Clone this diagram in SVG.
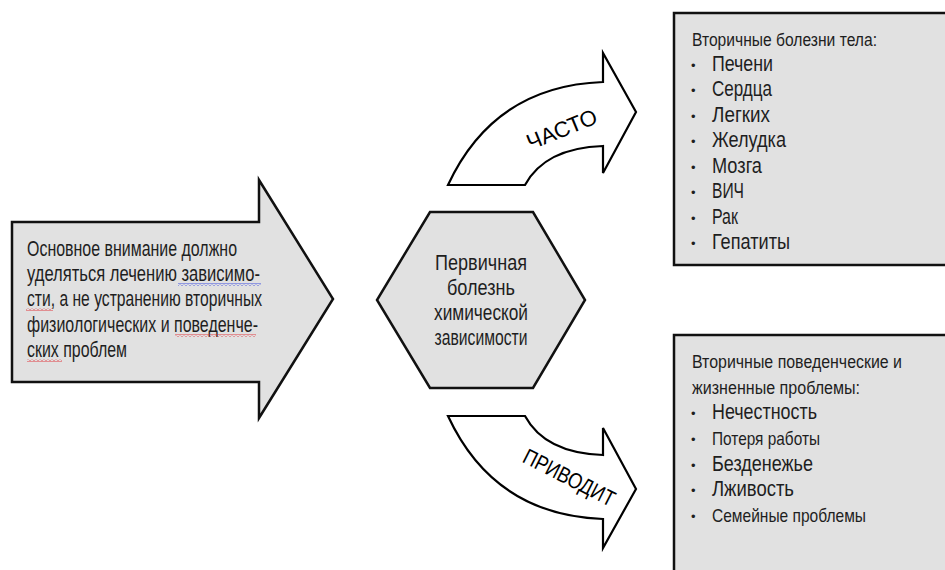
<svg xmlns="http://www.w3.org/2000/svg" width="945" height="570" viewBox="0 0 945 570">
<style>
.shape{fill:#e1e1e1;stroke:#111;stroke-width:2.5;stroke-linejoin:miter}
.curve{fill:#fff;stroke:#000;stroke-width:2.2;stroke-linejoin:miter}
.t{font-family:"Liberation Sans",Arial,sans-serif;fill:#1e1e1e}
.main{font-size:21.5px}
.hdr{font-size:17.5px}
.item{font-size:21.5px}
.small{font-size:18.5px}
.bul{font-family:"Liberation Sans",Arial,sans-serif;font-size:13px;fill:#1e1e1e}
.lbl{font-family:"Liberation Sans",Arial,sans-serif;font-size:22px;fill:#000}
</style>
<defs>
<pattern id="waveR" width="4" height="3" patternUnits="userSpaceOnUse">
<path d="M0,2.5 L2,0.5 L4,2.5" fill="none" stroke="#e0282e" stroke-width="0.9"/>
</pattern>
<pattern id="waveB" width="4" height="3" patternUnits="userSpaceOnUse">
<path d="M0,2.5 L2,0.5 L4,2.5" fill="none" stroke="#2b3de0" stroke-width="0.9"/>
</pattern>
</defs>
<rect width="945" height="570" fill="#fff"/>

<g id="connectors">
<g id="arrow-often">
<path class="curve" d="M448,185 Q494,86 603,82 L603,53 L636,112 L603,173 L603,146 Q545,148 525,185 Z"/>
<g transform="translate(562,130) rotate(-22)"><text class="lbl" x="0" y="7" text-anchor="middle" textLength="74" lengthAdjust="spacingAndGlyphs">ЧАСТО</text></g>
</g>
<g id="arrow-leads">
<path class="curve" d="M448,416 Q494,515 603,519 L603,548 L636,489 L603,428 L603,455 Q545,453 525,416 Z"/>
<g transform="translate(569,478) rotate(27)"><text class="lbl" x="0" y="7" text-anchor="middle" textLength="100" lengthAdjust="spacingAndGlyphs">ПРИВОДИТ</text></g>
</g>
</g>

<g id="focus">
<path class="shape" d="M12,222 L259,222 L259,180 L333,299 L259,418 L259,382 L12,382 Z"/>
<text class="t main" x="27" y="256" textLength="210" lengthAdjust="spacingAndGlyphs">Основное внимание должно</text>
<text class="t main" x="27" y="281" textLength="233" lengthAdjust="spacingAndGlyphs">уделяться лечению зависимо-</text>
<text class="t main" x="27" y="306" textLength="235" lengthAdjust="spacingAndGlyphs">сти, а не устранению вторичных</text>
<text class="t main" x="27" y="332" textLength="231" lengthAdjust="spacingAndGlyphs">физиологических и поведенче-</text>
<text class="t main" x="27" y="357" textLength="100" lengthAdjust="spacingAndGlyphs">ских проблем</text>
<rect x="178" y="283" width="83" height="3" fill="url(#waveB)"/>
<rect x="26" y="308" width="27" height="3" fill="url(#waveR)"/>
<rect x="175" y="334" width="81" height="3" fill="url(#waveR)"/>
<rect x="27" y="359" width="35" height="3" fill="url(#waveR)"/>
</g>

<g id="primary">
<path class="shape" d="M430,212 L533,212 L585,300 L533,388 L430,388 L377,300 Z"/>
<text class="t main" x="481" y="270" text-anchor="middle" textLength="92" lengthAdjust="spacingAndGlyphs">Первичная</text>
<text class="t main" x="481" y="295" text-anchor="middle" textLength="68" lengthAdjust="spacingAndGlyphs">болезнь</text>
<text class="t main" x="481" y="320" text-anchor="middle" textLength="94" lengthAdjust="spacingAndGlyphs">химической</text>
<text class="t main" x="481" y="345" text-anchor="middle" textLength="93" lengthAdjust="spacingAndGlyphs">зависимости</text>
</g>

<g id="body-diseases">
<rect class="shape" x="674" y="13" width="290" height="252"/>
<text class="t hdr" x="692" y="46" textLength="185" lengthAdjust="spacingAndGlyphs">Вторичные болезни тела:</text>
<g class="bul">
<text x="691" y="70">•</text><text x="691" y="95">•</text><text x="691" y="121">•</text><text x="691" y="146">•</text>
<text x="691" y="172">•</text><text x="691" y="197">•</text><text x="691" y="223">•</text><text x="691" y="248">•</text>
</g>
<text class="t item" x="712" y="71" textLength="61" lengthAdjust="spacingAndGlyphs">Печени</text>
<text class="t item" x="712" y="96" textLength="60" lengthAdjust="spacingAndGlyphs">Сердца</text>
<text class="t item" x="712" y="122" textLength="58" lengthAdjust="spacingAndGlyphs">Легких</text>
<text class="t item" x="712" y="147" textLength="74" lengthAdjust="spacingAndGlyphs">Желудка</text>
<text class="t item" x="712" y="173" textLength="50" lengthAdjust="spacingAndGlyphs">Мозга</text>
<text class="t item" x="712" y="198" textLength="32" lengthAdjust="spacingAndGlyphs">ВИЧ</text>
<text class="t item" x="712" y="224" textLength="26" lengthAdjust="spacingAndGlyphs">Рак</text>
<text class="t item" x="712" y="249" textLength="78" lengthAdjust="spacingAndGlyphs">Гепатиты</text>
</g>

<g id="life-problems">
<rect class="shape" x="674" y="335" width="290" height="250"/>
<text class="t hdr" x="692" y="368" textLength="210" lengthAdjust="spacingAndGlyphs">Вторичные поведенческие и</text>
<text class="t hdr" x="692" y="394" textLength="168" lengthAdjust="spacingAndGlyphs">жизненные проблемы:</text>
<g class="bul">
<text x="691" y="418">•</text><text x="691" y="444">•</text><text x="691" y="470">•</text><text x="691" y="495">•</text><text x="691" y="521">•</text>
</g>
<text class="t item" x="712" y="419" textLength="105" lengthAdjust="spacingAndGlyphs">Нечестность</text>
<text class="t small" x="712" y="445" textLength="108" lengthAdjust="spacingAndGlyphs">Потеря работы</text>
<text class="t item" x="712" y="471" textLength="101" lengthAdjust="spacingAndGlyphs">Безденежье</text>
<text class="t item" x="712" y="496" textLength="82" lengthAdjust="spacingAndGlyphs">Лживость</text>
<text class="t small" x="712" y="522" textLength="154" lengthAdjust="spacingAndGlyphs">Семейные проблемы</text>
</g>
</svg>
